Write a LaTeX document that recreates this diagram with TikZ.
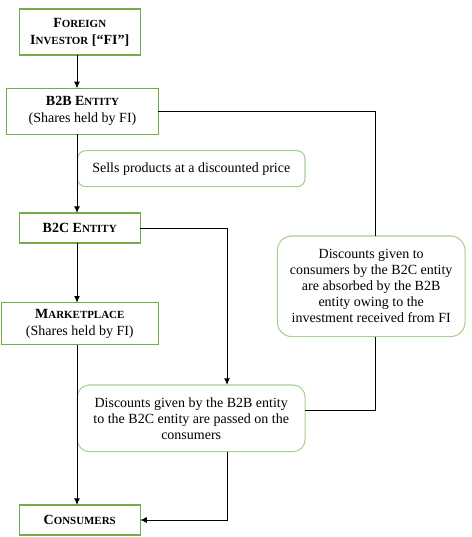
\documentclass[tikz,border=0pt]{standalone}
\usepackage{fontspec}
\setmainfont{Liberation Serif}
\usetikzlibrary{arrows.meta}
\definecolor{boxgreen}{HTML}{70AD47}
\definecolor{roundgreen}{HTML}{A9D18E}
\newcommand{\hsc}[2]{#1{\fontsize{8.2}{10}\selectfont #2}}
\begin{document}
\begin{tikzpicture}[x=0.75pt,y=-0.75pt,
  font=\fontsize{10.5}{12}\selectfont,
  hbox/.style={draw=boxgreen,line width=0.8pt,fill=white,inner sep=0pt,outer sep=0pt,align=center,font=\fontsize{10.5}{12.75}\selectfont},
  rbox/.style={draw=roundgreen,line width=0.8pt,fill=white,inner sep=0pt,outer sep=0pt,align=center,rounded corners=#1},
  rbox/.default=6pt,
  conn/.style={draw=black,line width=0.75pt},
  arr/.style={conn,-{Latex[length=5pt,width=4.5pt]}}]
\useasboundingbox (0,0) rectangle (472,537);
\coordinate (vx) at (77,0);
\coordinate (vx2) at (227,0);
\coordinate (vx3) at (375.5,0);
\coordinate (hy) at (0,410);

\node[hbox,minimum width=90.75pt,minimum height=34.5pt] (fi) at (79.7,32)
  {\textbf{\hsc{F}{OREIGN}}\\\textbf{\hsc{I}{NVESTOR} [“FI”]}};
\node[hbox,minimum width=113.7pt,minimum height=34.5pt] (b2b) at (82.5,111.3)
  {\textbf{B2B \hsc{E}{NTITY}}\\(Shares held by FI)};
\node[rbox=6pt,minimum width=170.5pt,minimum height=27pt] (sells) at (191.3,168.7)
  {Sells products at a discounted price};
\node[hbox,minimum width=90.75pt,minimum height=22.5pt] (b2c) at (79.7,228)
  {\textbf{B2C \hsc{E}{NTITY}}};
\node[hbox,minimum width=117.75pt,minimum height=31.7pt] (mkt) at (79.8,323.8)
  {\textbf{\hsc{M}{ARKETPLACE}}\\(Shares held by FI)};
\node[rbox=11pt,minimum width=140.8pt,minimum height=75.5pt] (right) at (371.2,286.3)
  {Discounts given to\\consumers by the B2C entity\\are absorbed by the B2B\\entity owing to the\\investment received from FI};
\node[rbox=9pt,minimum width=170.8pt,minimum height=50pt] (disc) at (191.2,418.3)
  {Discounts given by the B2B entity\\to the B2C entity are passed on the\\consumers};
\node[hbox,minimum width=90.75pt,minimum height=22.5pt] (cons) at (79.7,520)
  {\textbf{\hsc{C}{ONSUMERS}}};

\draw[arr] (fi.south -| vx) -- (b2b.north -| vx);
\draw[arr] (b2b.south -| vx) -- (b2c.north -| vx);
\draw[arr] (b2c.south -| vx) -- (mkt.north -| vx);
\draw[arr] (mkt.south -| vx) -- (cons.north -| vx);
\draw[arr] (b2c.east) -- (b2c.east -| vx2) -- (disc.north -| vx2);
\draw[conn] (b2b.east) -- (b2b.east -| vx3) -- (right.north -| vx3);
\draw[conn] (right.south -| vx3) -- (vx3 |- hy) -- (disc.east |- hy);
\draw[arr] (disc.south -| vx2) |- (cons.east);
\end{tikzpicture}
\end{document}
